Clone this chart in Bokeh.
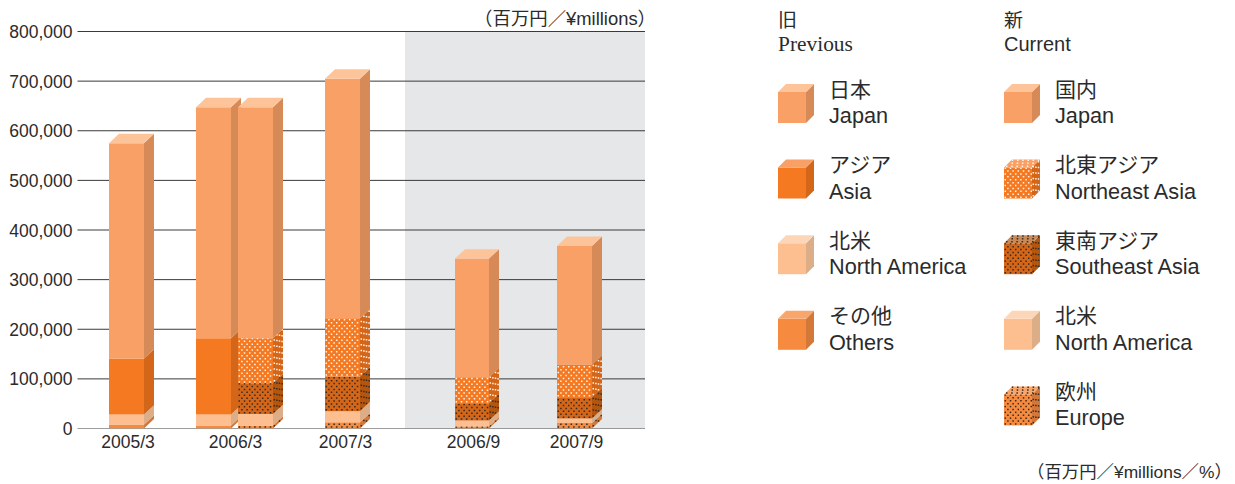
from bokeh.plotting import figure
from bokeh.layouts import row
from bokeh.models import FixedTicker, NumeralTickFormatter, Range1d
from bokeh.core.properties import value
from bokeh.embed import file_html
from bokeh.resources import INLINE

# ---- data (millions of yen), bottom segment first
prev_2005_3 = {"others": 8000, "north_america": 20000, "asia": 113000, "japan": 434000}
prev_2006_3 = {"others": 6000, "north_america": 22000, "asia": 154000, "japan": 465500}
curr_2006_3 = {"europe": 6000, "north_america": 23000, "se_asia": 62000, "ne_asia": 91000, "japan": 465500}
curr_2007_3 = {"europe": 12500, "north_america": 22500, "se_asia": 70000, "ne_asia": 117000, "japan": 483000}
curr_2006_9 = {"europe": 4000, "north_america": 12000, "se_asia": 35000, "ne_asia": 52500, "japan": 239000}
curr_2007_9 = {"europe": 11000, "north_america": 9000, "se_asia": 43000, "ne_asia": 66000, "japan": 239000}
periods = ["2005/3", "2006/3", "2007/3", "2006/9", "2007/9"]
y_ticks = [0, 100000, 200000, 300000, 400000, 500000, 600000, 700000, 800000]

unit_top = "（百万円／¥millions）"
unit_bottom = "（百万円／¥millions／%）"

legend_prev = [("japan", "日本", "Japan"), ("asia", "アジア", "Asia"),
               ("north_america", "北米", "North America"), ("others", "その他", "Others")]
legend_curr = [("japan", "国内", "Japan"), ("ne_asia", "北東アジア", "Northeast Asia"),
               ("se_asia", "東南アジア", "Southeast Asia"), ("north_america", "北米", "North America"),
               ("europe", "欧州", "Europe")]

# ---- styles
# key: front, side, top, dot colour
STYLE = {
    "japan":         ("#f9a066", "#d58a57", "#fdc49a", None),
    "asia":          ("#f47920", "#d4661a", "#f9a066", None),
    "north_america": ("#fdbe90", "#dcae88", "#fdd6b8", None),
    "others":        ("#f68b3f", "#d4783a", "#f9a66c", None),
    "ne_asia":       ("#f47920", "#d4661a", "#f9a066", "#fff4ea"),
    "se_asia":       ("#d4661a", "#b5560f", "#c98a5a", "#3a2a1e"),
    "europe":        ("#f68b3f", "#d4783a", "#f9a66c", "#3a2a1e"),
}
TEXT = "#2b2b2b"
SANS = "Liberation Sans, Noto Sans CJK JP"
SERIF = "Liberation Serif, Noto Sans CJK JP"
DOT_U = 2.6  # px between staggered columns
DOT_V = 2.9  # px between staggered rows


def add_dots(p, origin, a, a_len, b, b_len, sy, dot):
    """Staggered dot pattern on the face origin + u*a/a_len + v*b/b_len (u, v in px)."""
    xs, ys = [], []
    nu = int(a_len / DOT_U + 0.5)
    nv = int(b_len / DOT_V + 0.5)
    for i in range(nu):
        for j in range(nv):
            if (i + j) % 2:
                continue
            u = (i + 0.5) * DOT_U / a_len
            v = (j + 0.5) * DOT_V / b_len
            xs.append(origin[0] + u * a[0] + v * b[0])
            ys.append(origin[1] + (u * a[1] + v * b[1]) * sy)
    if xs:
        p.scatter(xs, ys, marker="square", size=1.5, fill_color=dot, line_color=None)


def draw_cube(p, left, right, bottom, top, dx, dy_px, sy, key):
    """sy: data units per px upward; bottom/top in data units."""
    front, side, lid, dot = STYLE[key]
    dy = dy_px * sy
    p.patch([right, right + dx, right + dx, right], [bottom, bottom + dy, top + dy, top],
            fill_color=side, line_color=None)
    p.quad(left=[left], right=[right], bottom=[bottom], top=[top], fill_color=front, line_color=None)
    if dot:
        h_px = (top - bottom) / sy
        add_dots(p, (left, bottom), (right - left, 0), right - left, (0, h_px), h_px, sy, dot)
        add_dots(p, (right, bottom), (dx, dy_px), dx, (0, h_px), h_px, sy, dot)


def draw_lid(p, left, right, top, dx, dy_px, sy, key):
    front, side, lid, dot = STYLE[key]
    dy = dy_px * sy
    p.patch([left, right, right + dx, left + dx], [top, top, top + dy, top + dy],
            fill_color=lid, line_color=None)
    if dot:
        add_dots(p, (left, top), (right - left, 0), right - left, (dx, dy_px), dy_px, sy, dot)


# ---- chart: x in page pixels, y in data units
PX_PER_UNIT = 397.0 / 800000.0
SPLIT_X = 660
X_NUDGE = 0.5
chart = figure(width=SPLIT_X, height=476,
               x_range=Range1d(77 + X_NUDGE, SPLIT_X + X_NUDGE), y_range=Range1d(0, 428 / PX_PER_UNIT),
               output_backend="svg", toolbar_location=None, min_border_left=77, min_border_right=0,
               min_border_top=0, min_border_bottom=48, outline_line_color=None,
               background_fill_color="white", border_fill_color="white", frame_align=False)
chart.grid.visible = False
chart.quad(left=[405], right=[645], bottom=[y_ticks[0]], top=[y_ticks[-1]],
           fill_color="#e6e7e8", line_color=None, level="image")
chart.segment(x0=[77] * len(y_ticks), x1=[645] * len(y_ticks), y0=y_ticks, y1=y_ticks,
              line_color="#3a3a3a", line_width=1, level="underlay")

bars = [(109, 144, prev_2005_3), (196, 231, prev_2006_3), (238, 273, curr_2006_3),
        (325, 360, curr_2007_3), (455, 489, curr_2006_9), (557, 592, curr_2007_9)]
DX, DY_PX = 10, 9.4
SY = 1 / PX_PER_UNIT
for left, right, segs in bars:
    base = 0
    last = None
    for key, v in segs.items():
        draw_cube(chart, left, right, base, base + v, DX, DY_PX, SY, key)
        base += v
        last = key
    draw_lid(chart, left, right, base, DX, DY_PX, SY, last)

period_x = [128, 235.5, 345.5, 473.5, 576.5]
chart.yaxis.ticker = FixedTicker(ticks=y_ticks)
chart.yaxis.formatter = NumeralTickFormatter(format="0,0")
chart.xaxis.ticker = FixedTicker(ticks=period_x)
chart.xaxis.major_label_overrides = {x: s for x, s in zip(period_x, periods)}
for ax, standoff in ((chart.xaxis, 3), (chart.yaxis, 5)):
    ax.axis_line_color = None
    ax.major_tick_line_color = None
    ax.minor_tick_line_color = None
    ax.major_tick_out = 0
    ax.major_tick_in = 0
    ax.major_label_standoff = standoff
    ax.major_label_text_font = SANS
    ax.major_label_text_font_size = "17.5px"
    ax.major_label_text_color = TEXT

chart.text(x=[656], y=[(428 - 18) / PX_PER_UNIT], text=[unit_top], text_align="right", text_baseline="middle",
           text_font=value(SANS), text_font_size="18.4px", text_color=TEXT)

# ---- legend panel: page-pixel coordinates, y downward
leg = figure(width=1235 - SPLIT_X, height=484,
             x_range=Range1d(SPLIT_X + X_NUDGE, 1235 + X_NUDGE), y_range=Range1d(484, 0),
             x_axis_type=None, y_axis_type=None,
             output_backend="svg", toolbar_location=None, min_border=0, outline_line_color=None,
             background_fill_color="white", border_fill_color="white", frame_align=False)
leg.grid.visible = False


def label(x, y, s, size, font=SANS, align="left"):
    leg.text(x=[x], y=[y], text=[s], text_align=align, text_baseline="middle",
             text_font=value(font), text_font_size=size, text_color=TEXT)


label(778, 20, "旧", "19px", SERIF)
label(778, 43, "Previous", "21.4px", SERIF)
label(1004, 20, "新", "19px")
label(1004, 43, "Current", "20px")

ROW_TOP = 91.5
ROW_STEP = 75.6
for x0, entries in ((778, legend_prev), (1004, legend_curr)):
    for i, (key, jp, en) in enumerate(entries):
        y0 = ROW_TOP + i * ROW_STEP
        draw_cube(leg, x0, x0 + 28, y0 + 31, y0, 8, 8, -1, key)
        draw_lid(leg, x0, x0 + 28, y0, 8, 8, -1, key)
        label(x0 + 51, y0 - 3, jp, "21px")
        label(x0 + 51, y0 + 23.5, en, "21.7px")

label(1027, 471, unit_bottom, "17.4px")

layout = row(chart, leg, spacing=0)
open("out.html", "w").write(file_html(layout, INLINE))
